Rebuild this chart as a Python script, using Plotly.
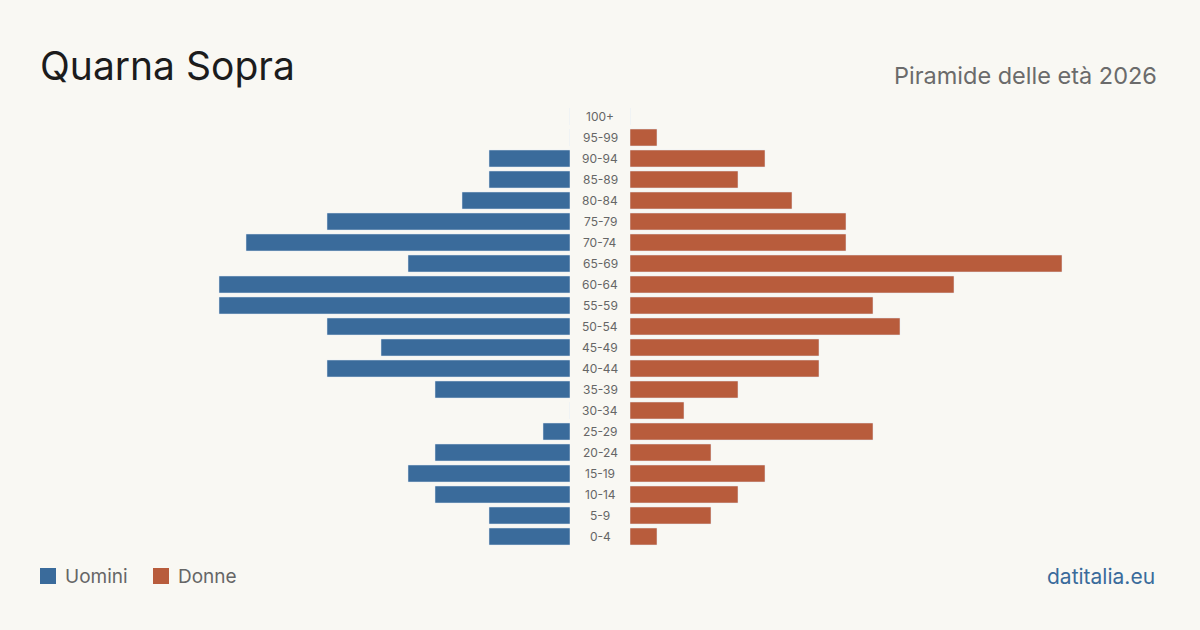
import plotly.graph_objects as go

age_groups = ["0-4", "5-9", "10-14", "15-19", "20-24", "25-29", "30-34", "35-39",
              "40-44", "45-49", "50-54", "55-59", "60-64", "65-69", "70-74", "75-79",
              "80-84", "85-89", "90-94", "95-99", "100+"]
men = [3, 3, 5, 6, 5, 1, 0, 5, 9, 7, 9, 13, 13, 6, 12, 9, 4, 3, 3, 0, 0]
women = [1, 3, 4, 5, 3, 9, 2, 4, 7, 7, 10, 9, 12, 16, 8, 8, 6, 4, 5, 1, 0]

BLUE = "#3a6b9b"
ORANGE = "#b85c3c"
BG = "#f9f8f3"
FONT = "Inter"

W, H = 1200, 630
px_per_unit = 27
left_w = 570 - 40
right_w = 1160 - 630
rng_l = left_w / px_per_unit
rng_r = right_w / px_per_unit

fig = go.Figure()
fig.add_trace(go.Bar(y=age_groups, x=men, orientation="h", marker_color=BLUE,
                     xaxis="x", yaxis="y", name="Uomini", showlegend=False,
                     hoverinfo="x+y"))
fig.add_trace(go.Bar(y=age_groups, x=women, orientation="h", marker_color=ORANGE,
                     xaxis="x2", yaxis="y", name="Donne", showlegend=False,
                     hoverinfo="x+y"))

for g in age_groups:
    fig.add_annotation(x=0.5, xref="paper", y=g, yref="y", text=g, showarrow=False,
                       font=dict(family=FONT, size=12, color="#666666"),
                       xanchor="center", yanchor="middle")

plot_top = 106
plot_bot = 547
fig.update_layout(
    width=W, height=H,
    paper_bgcolor=BG, plot_bgcolor=BG,
    margin=dict(l=0, r=0, t=plot_top, b=H - plot_bot),
    bargap=0.19,
    xaxis=dict(domain=[40 / W, 570 / W], range=[rng_l, 0], visible=False, fixedrange=True),
    xaxis2=dict(domain=[630 / W, 1160 / W], range=[0, rng_r], visible=False, fixedrange=True),
    yaxis=dict(categoryorder="array", categoryarray=age_groups, range=[-0.5, 20.5],
               visible=False, fixedrange=True),
)


def paper_y(y_px):
    return (plot_bot - y_px) / (plot_bot - plot_top)


fig.add_annotation(x=38 / W, y=paper_y(66), xref="paper", yref="paper", text="Quarna Sopra",
                   showarrow=False, xanchor="left", yanchor="middle",
                   font=dict(family=FONT, size=39, color="#1c1c1c"))
fig.add_annotation(x=1159 / W, y=paper_y(76), xref="paper", yref="paper",
                   text="Piramide delle età 2026", showarrow=False,
                   xanchor="right", yanchor="middle",
                   font=dict(family=FONT, size=23.5, color="#6b6b6b"))

# legend
fig.add_shape(type="rect", xref="paper", yref="paper", x0=40 / W, x1=56 / W,
              y0=paper_y(584), y1=paper_y(568), fillcolor=BLUE, line_width=0)
fig.add_annotation(x=63 / W, y=paper_y(576), xref="paper", yref="paper", text="Uomini",
                   showarrow=False, xanchor="left", yanchor="middle",
                   font=dict(family=FONT, size=19, color="#666666"))
fig.add_shape(type="rect", xref="paper", yref="paper", x0=153 / W, x1=169 / W,
              y0=paper_y(584), y1=paper_y(568), fillcolor=ORANGE, line_width=0)
fig.add_annotation(x=176 / W, y=paper_y(576), xref="paper", yref="paper", text="Donne",
                   showarrow=False, xanchor="left", yanchor="middle",
                   font=dict(family=FONT, size=19, color="#666666"))

fig.add_annotation(x=1157 / W, y=paper_y(576), xref="paper", yref="paper", text="datitalia.eu",
                   showarrow=False, xanchor="right", yanchor="middle",
                   font=dict(family=FONT, size=21, color="#3a6b9b"))

fig.write_html("out.html", config={"displayModeBar": False})
